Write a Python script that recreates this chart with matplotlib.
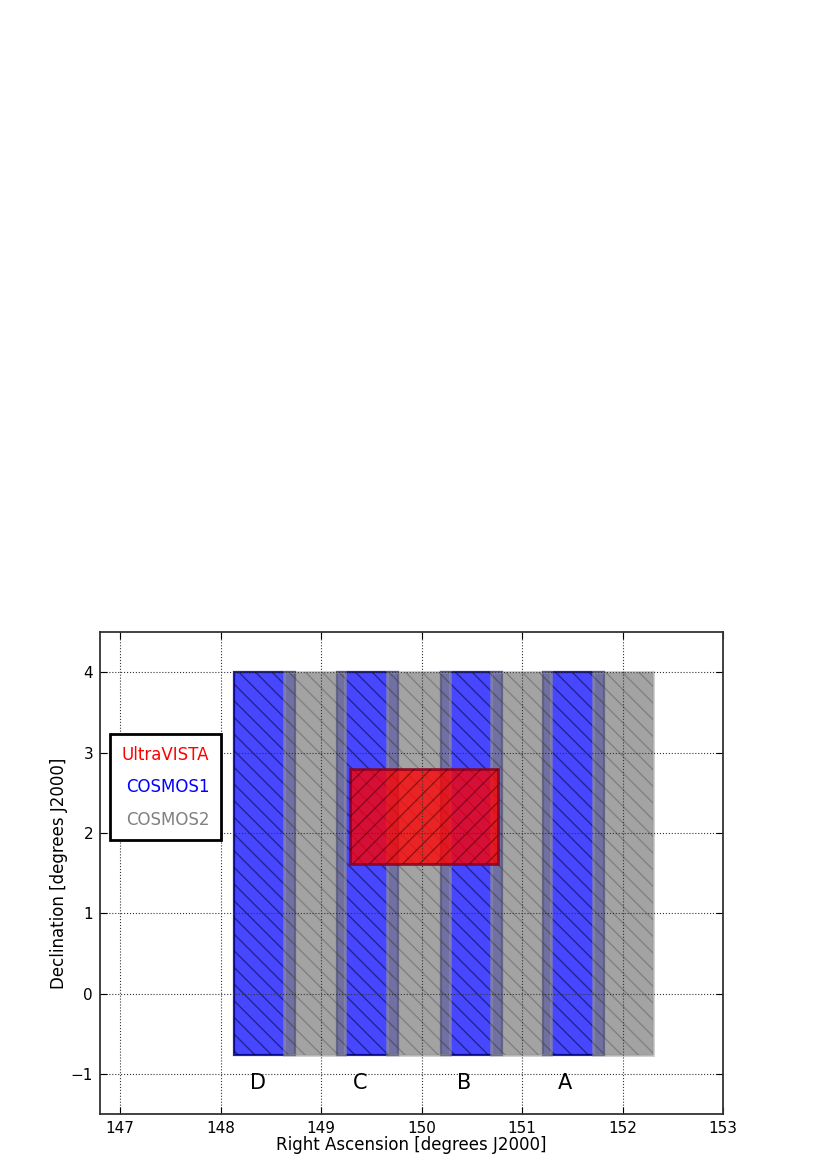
import matplotlib
matplotlib.use('Agg')
import matplotlib.pyplot as plt
from matplotlib.patches import Rectangle
from matplotlib.lines import Line2D

# field footprints (RA / Dec in degrees)
cosmos1_ra_min = [148.13, 149.16, 150.19, 151.21]
cosmos1_ra_max = [148.74, 149.77, 150.80, 151.82]
cosmos1_dec = [-0.77, 4.0]

cosmos2_ra_min = [148.63, 149.66, 150.69, 151.71]
cosmos2_ra_max = [149.24, 150.28, 151.29, 152.30]
cosmos2_dec = [-0.77, 4.0]

ultravista_ra = [149.29, 150.76]
ultravista_dec = [1.61, 2.80]

stripe_names = ['D', 'C', 'B', 'A']
stripe_label_ra = [148.37, 149.39, 150.42, 151.43]
stripe_label_dec = -1.12

plt.rcParams['font.family'] = 'DejaVu Sans'
plt.rcParams['hatch.linewidth'] = 1.0


def footprint(ax, r0, r1, d0, d1, face, edge, hatch, hatch_col, lw):
    # filled box, then the hatch drawn on its own so it can have its own colour
    ax.add_patch(Rectangle((r0, d0), r1 - r0, d1 - d0, facecolor=face,
                           edgecolor=edge, lw=lw))
    ax.add_patch(Rectangle((r0, d0), r1 - r0, d1 - d0, fill=False,
                           edgecolor=hatch_col, hatch=hatch, lw=0))


fig = plt.figure(figsize=(8.3, 11.75), dpi=100)
ax = fig.add_axes([0.1205, 0.0519, 0.7506, 0.4102])

for r0, r1 in zip(cosmos1_ra_min, cosmos1_ra_max):
    footprint(ax, r0, r1, cosmos1_dec[0], cosmos1_dec[1],
              (0, 0, 1, 0.72), (0, 0, 0.5, 0.85), '\\\\', (0, 0, 0.15, 0.5), 1.6)

for r0, r1 in zip(cosmos2_ra_min, cosmos2_ra_max):
    footprint(ax, r0, r1, cosmos2_dec[0], cosmos2_dec[1],
              (0.5, 0.5, 0.5, 0.72), (0.6, 0.6, 0.6, 0.5), '\\\\', (0.2, 0.2, 0.2, 0.3), 2)

footprint(ax, ultravista_ra[0], ultravista_ra[1], ultravista_dec[0], ultravista_dec[1],
          (1, 0, 0, 0.78), (0.55, 0, 0.1, 0.85), '//', (0.2, 0, 0, 0.45), 2)

for name, ra in zip(stripe_names, stripe_label_ra):
    ax.text(ra, stripe_label_dec, name, ha='center', va='center', fontsize=15)

ax.set_xlim(146.8, 153)
ax.set_ylim(-1.5, 4.5)
ax.set_xticks([147, 148, 149, 150, 151, 152, 153])
ax.set_yticks([-1, 0, 1, 2, 3, 4])
ax.grid(True, linestyle=':', color='#333333', lw=0.8)
ax.tick_params(direction='in', top=True, right=True, labelsize=11, length=5, pad=5)
for s in ax.spines.values():
    s.set_linewidth(1.3)
    s.set_color('#333333')

ax.set_xlabel('Right Ascension [degrees J2000]', fontsize=12, labelpad=0)
ax.set_ylabel('Declination [degrees J2000]', fontsize=12, labelpad=2)

# text-only legend
handles = [Line2D([], [], linestyle='none') for _ in range(3)]
leg = ax.legend(handles, ['UltraVISTA', 'COSMOS1', 'COSMOS2'],
                labelcolor=['red', 'blue', 'gray'], fontsize=12,
                handlelength=0, handletextpad=0, markerfirst=False,
                loc='upper left', bbox_to_anchor=(0.016, 0.788),
                borderaxespad=0, borderpad=0.7, labelspacing=0.86,
                fancybox=False, framealpha=1, edgecolor='black')
leg.get_frame().set_linewidth(2)

fig.savefig('out.png', dpi=100)
